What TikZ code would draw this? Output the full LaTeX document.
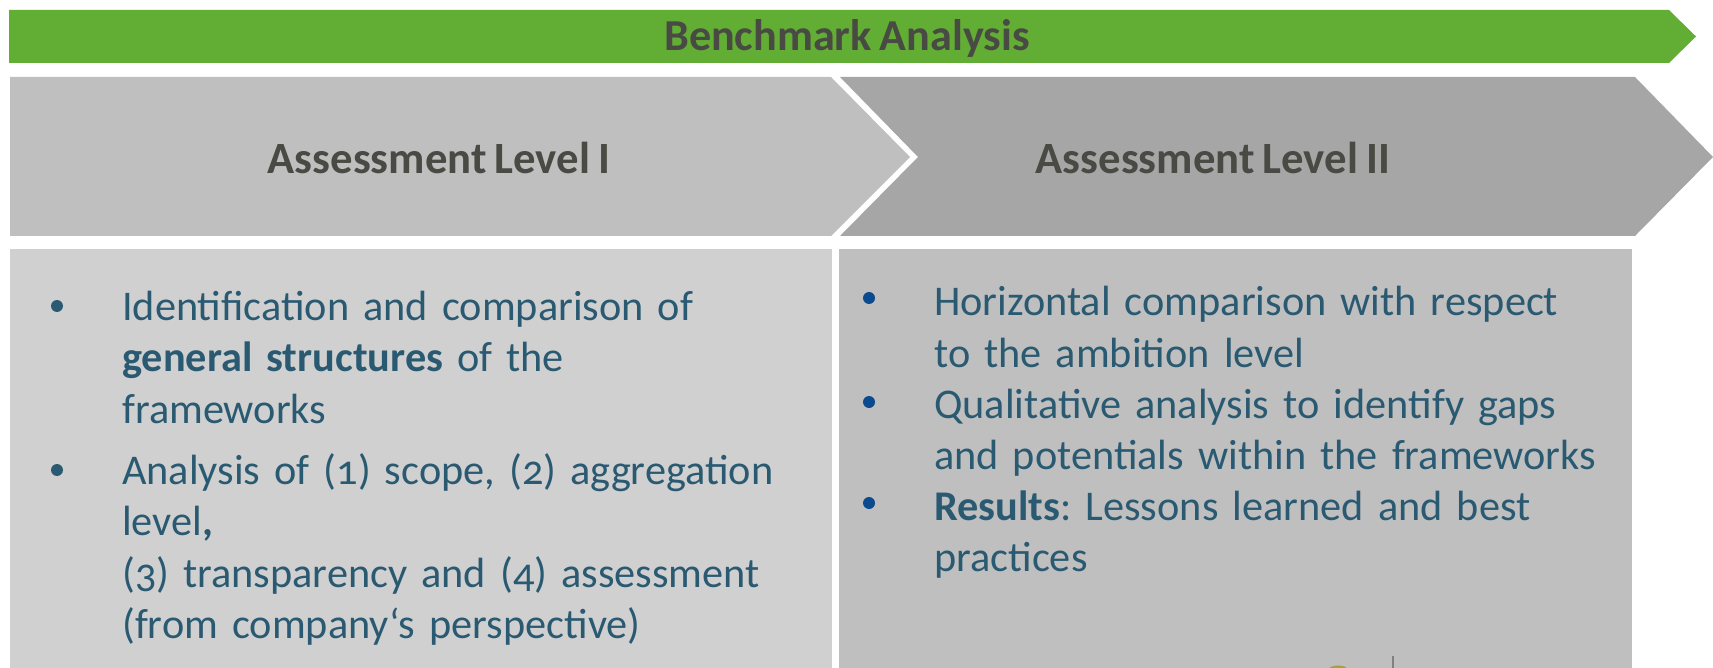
\documentclass[tikz,border=0pt]{standalone}
\usepackage{fontspec}
\setmainfont{Carlito}[Numbers=OldStyle, WordSpace=0.8]
\usepackage{xcolor}
\definecolor{bargreen}{HTML}{62AE35}
\definecolor{chevlight}{HTML}{BFBFBF}
\definecolor{chevdark}{HTML}{A6A6A6}
\definecolor{boxleft}{HTML}{D0D0D0}
\definecolor{boxright}{HTML}{BFBFBF}
\definecolor{headtext}{HTML}{4A4A44}
\definecolor{bodytext}{HTML}{2A5A72}
\definecolor{dotblue}{HTML}{0B4A8E}
\frenchspacing

\begin{document}
\begin{tikzpicture}[x=1pt, y=-1pt,
    headline/.style={font=\fontsize{44.7}{50}\selectfont\bfseries, text=headtext, inner sep=0pt},
    itemtext/.style={font=\fontsize{42.3}{51.5}\selectfont, text=bodytext, inner sep=0pt, anchor=base west, align=left, text width=760pt},
    bulletdot/.style={circle, fill=#1, inner sep=0pt, minimum size=12pt}]
            \useasboundingbox (0,0) rectangle (1713,668);
            \fill[bargreen] (9,10) -- (1669,10) -- (1696,36.5) -- (1669,63) -- (9,63) -- cycle;
            \fill[chevlight] (10,77) -- (831,77) -- (910,157) -- (831,236) -- (10,236) -- cycle;
            \fill[chevdark] (840,77) -- (1635,77) -- (1713,157) -- (1635,236) -- (840,236) -- (918,157) -- cycle;
            \fill[boxleft] (10,249) rectangle (832,668);
            \fill[boxright] (839,249) rectangle (1632,668);
            \fill[olive!60!chevlight] (1338,669) ellipse (9 and 3.5);
            \draw[gray, line width=1.5pt] (1393,656) -- (1393,668);
            \node[headline, font=\fontsize{44.2}{50}\selectfont\bfseries] (T) at (847,38) {Benchmark Analysis};
            \node[headline] (A) at (439,158) {Assessment Level I};
            \node[headline] (B) at (1213,158) {Assessment Level II};
            \node[bulletdot=bodytext] (A1) at (57,306) {};
            \node[bulletdot=bodytext] (A2) at (57,470) {};
            \node[itemtext] (AT1) at (122,320) {Identification and comparison of\\\textbf{general structures} of the\\frameworks};
            \node[itemtext] (AT2) at (122,484) {Analysis of (1) scope, (2) aggregation\\level\textbf{,}\\(3) transparency and (4) assessment\\(from company‘s perspective)};
            \node[bulletdot=dotblue] (B1) at (869,298) {};
            \node[bulletdot=dotblue] (B2) at (869,402) {};
            \node[bulletdot=dotblue] (B3) at (869,503) {};
            \node[itemtext] (BT1) at (934,316) {Horizontal comparison with respect\\to the ambition level};
            \node[itemtext] (BT2) at (934,418) {Qualitative analysis to identify gaps\\and potentials within the frameworks};
            \node[itemtext] (BT3) at (934,520) {\textbf{Results}: Lessons learned and best\\practices};
\end{tikzpicture}
\end{document}
